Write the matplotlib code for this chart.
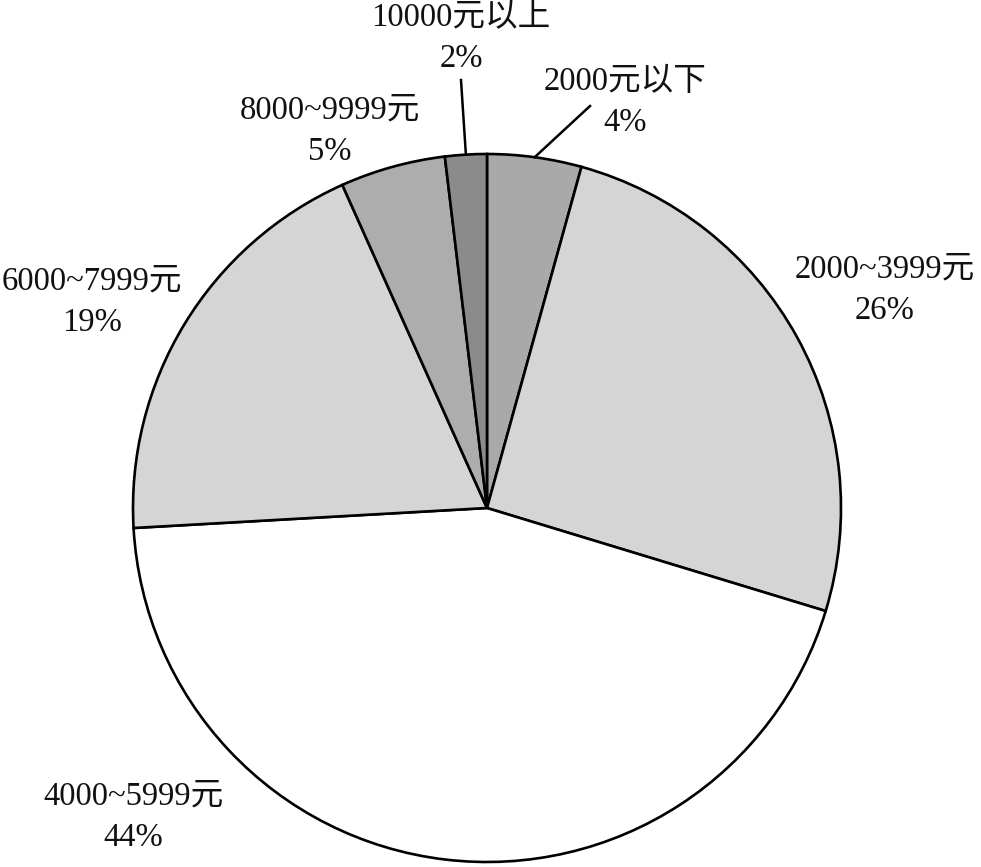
import numpy as np
import matplotlib.pyplot as plt

plt.rcParams['font.family'] = ['Liberation Serif', 'Noto Sans CJK SC']

categories = ["2000元以下", "2000~3999元", "4000~5999元", "6000~7999元", "8000~9999元", "10000元以上"]
values = [4.3, 25.4, 44.4, 19.2, 4.8, 1.9]
pct_labels = ["4%", "26%", "44%", "19%", "5%", "2%"]
colors = ["#a9a9a9", "#d5d5d5", "#ffffff", "#d5d5d5", "#adadad", "#8b8b8b"]

# label positions in pixels (x, y from top)
label_pos = [(625, 102), (885, 290), (133, 817), (92, 302), (330, 131), (461, 38)]
leader = {0: (590, 106), 5: (461, 80)}

W, H = 981, 867
fig = plt.figure(figsize=(W / 100, H / 100), dpi=100)
ax = fig.add_axes([0, 0, 1, 1])
cx, cy, r = 487, H - 508, 354

wedges, _ = ax.pie(values, colors=colors, startangle=90, counterclock=False,
                   radius=r, center=(cx, cy),
                   wedgeprops=dict(edgecolor="black", linewidth=1.9))

for i, (cat, pct) in enumerate(zip(categories, pct_labels)):
    x, y = label_pos[i]
    ax.text(x, H - y, cat + "\n" + pct, ha="center", va="center",
            fontsize=23.5, linespacing=1.45, color="#111111")
    if i in leader:
        w = wedges[i]
        ang = np.deg2rad((w.theta1 + w.theta2) / 2)
        ex, ey = cx + r * np.cos(ang), cy + r * np.sin(ang)
        sx, sy = leader[i]
        ax.plot([sx, ex], [H - sy, ey], color="black", linewidth=1.8)

ax.set_xlim(0, W)
ax.set_ylim(0, H)
ax.set_aspect("equal")
ax.axis("off")
fig.savefig("out.png", dpi=100)
